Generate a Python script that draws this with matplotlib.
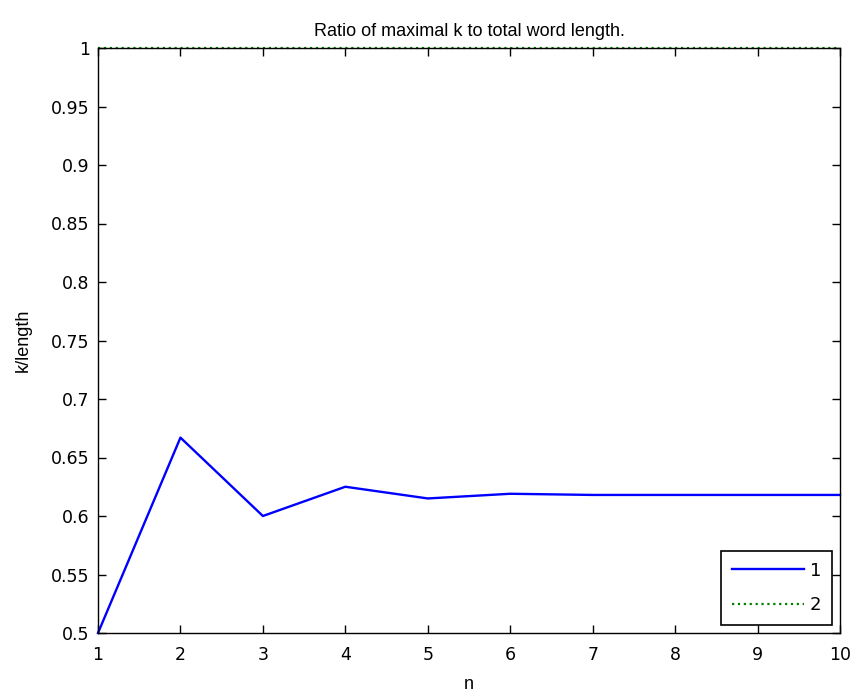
import matplotlib
matplotlib.use('Agg')
import matplotlib.pyplot as plt

n = [1, 2, 3, 4, 5, 6, 7, 8, 9, 10]
ratio_1 = [0.5, 0.667, 0.6, 0.625, 0.615, 0.619, 0.618, 0.618, 0.618, 0.618]
ratio_2 = [1, 1, 1, 1, 1, 1, 1, 1, 1, 1]
labels = ['1', '2']
yticks = [0.5, 0.55, 0.6, 0.65, 0.7, 0.75, 0.8, 0.85, 0.9, 0.95, 1]

plt.rcParams['font.family'] = ['Liberation Sans', 'DejaVu Sans']
plt.rcParams['font.size'] = 13

fig = plt.figure(figsize=(8.56, 6.95), dpi=100)
ax = fig.add_axes([98 / 856, 1 - 633 / 695, (840 - 98) / 856, (633 - 48) / 695])

ax.plot(n, ratio_1, color=(0, 0, 1), lw=1.7, label=labels[0], clip_on=False)
ax.plot(n, ratio_2, color=(0, 0.5, 0), lw=1.6, ls=':', label=labels[1], clip_on=False)

ax.set_xlim(1, 10)
ax.set_ylim(0.5, 1)
ax.set_xticks(n)
ax.set_yticks(yticks)
ax.set_yticklabels([f'{v:g}' for v in yticks])
for lab in ax.get_xticklabels() + ax.get_yticklabels():
    lab.set_family('DejaVu Sans')
    lab.set_fontsize(12.5)
ax.tick_params(axis='x', pad=9)
ax.tick_params(axis='y', pad=6)
ax.tick_params(direction='in', top=True, right=True, length=6, width=1)
for s in ax.spines.values():
    s.set_linewidth(1)

ax.set_title('Ratio of maximal k to total word length.', fontsize=13, pad=9)
ax.set_xlabel('n', labelpad=9)
ax.set_ylabel('k/length', labelpad=14)

leg = ax.legend(loc='lower right', fancybox=False, edgecolor='black', framealpha=1,
                handlelength=4.0, handletextpad=0.3, borderaxespad=0.45, borderpad=0.6,
                labelspacing=0.9, prop={'family': 'DejaVu Sans', 'size': 13})
leg.get_frame().set_linewidth(1.2)

plt.savefig('out.png', dpi=100)
